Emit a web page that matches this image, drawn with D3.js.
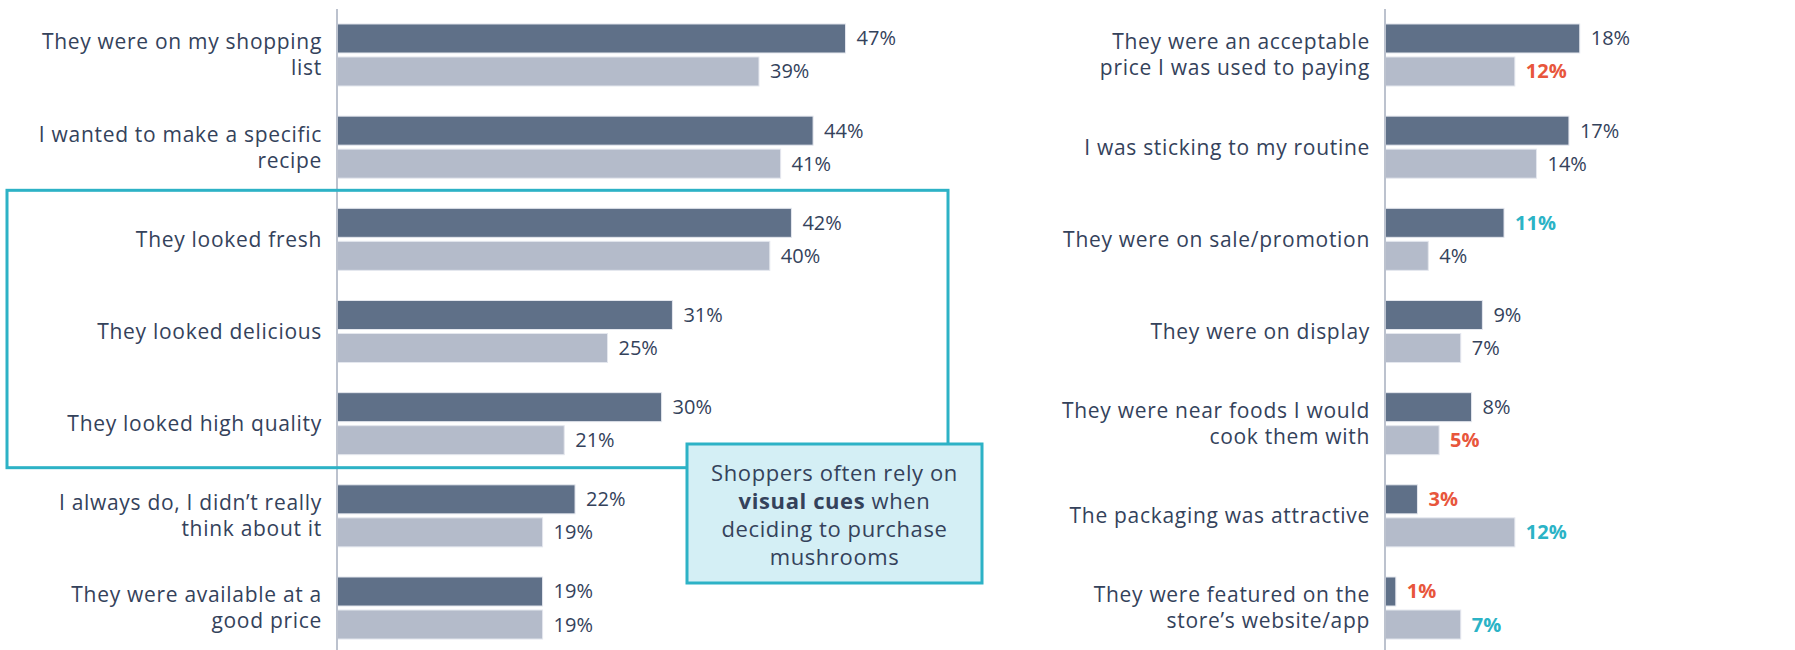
<!DOCTYPE html>
<html>
<head>
<meta charset="utf-8">
<script src="https://cdn.jsdelivr.net/npm/d3@7"></script>
<style>
  body { margin: 0; background: #fff; }
  svg { display: block; font-family: "Open Sans", sans-serif; }
</style>
</head>
<body>
<svg width="1795" height="650"></svg>
<script>
var leftLabels = [
  ["They were on my shopping", "list"],
  ["I wanted to make a specific", "recipe"],
  ["They looked fresh"],
  ["They looked delicious"],
  ["They looked high quality"],
  ["I always do, I didn\u2019t really", "think about it"],
  ["They were available at a", "good price"]
];
var leftDark = [47, 44, 42, 31, 30, 22, 19];
var leftLight = [39, 41, 40, 25, 21, 19, 19];

var rightLabels = [
  ["They were an acceptable", "price I was used to paying"],
  ["I was sticking to my routine"],
  ["They were on sale/promotion"],
  ["They were on display"],
  ["They were near foods I would", "cook them with"],
  ["The packaging was attractive"],
  ["They were featured on the", "store\u2019s website/app"]
];
var rightDark = [18, 17, 11, 9, 8, 3, 1];
var rightLight = [12, 14, 4, 7, 5, 12, 7];
// "up" = notably higher, "down" = notably lower
var rightDarkFlag = ["", "", "up", "", "", "down", "down"];
var rightLightFlag = ["down", "", "", "", "down", "up", "up"];

var calloutLines = [
  [["Shoppers often rely on", false]],
  [["visual cues", true], [" when", false]],
  [["deciding to purchase", false]],
  [["mushrooms", false]]
];

var svg = d3.select("svg");

var darkColor = "#5f7088",
  lightColor = "#b4bbca",
  textColor = "#34425b",
  upColor = "#2bb3c6",
  downColor = "#e8563c",
  teal = "#2db2c6";

var y = d3
  .scaleBand()
  .domain(d3.range(7))
  .range([8.9, 654.1])
  .paddingInner(0.327)
  .paddingOuter(0.1635);

var sub = d3
  .scaleBand()
  .domain(["dark", "light"])
  .range([0, y.bandwidth()])
  .paddingInner(0.121);

function panel(x0, labels, dark, light, darkFlag, lightFlag) {
  var x = d3.scaleLinear().domain([0, 50]).range([x0, x0 + 541]);

  var rows = labels.map(function (l, i) {
    return {
      i: i,
      label: l,
      bars: [
        { key: "dark", v: dark[i], flag: darkFlag ? darkFlag[i] : "" },
        { key: "light", v: light[i], flag: lightFlag ? lightFlag[i] : "" }
      ]
    };
  });

  var g = svg.append("g");

  var row = g
    .selectAll("g.row")
    .data(rows)
    .enter()
    .append("g")
    .attr("class", "row")
    .attr("transform", function (d) {
      return "translate(0," + y(d.i) + ")";
    });

  row
    .selectAll("rect")
    .data(function (d) { return d.bars; })
    .enter()
    .append("rect")
    .attr("x", x(0))
    .attr("y", function (d) { return sub(d.key); })
    .attr("width", function (d) { return x(d.v) - x(0); })
    .attr("height", sub.bandwidth())
    .attr("fill", function (d) { return d.key == "dark" ? darkColor : lightColor; })
    .attr("stroke", "#e4e7ee")
    .attr("stroke-width", 1);

  row
    .selectAll("text.val")
    .data(function (d) { return d.bars; })
    .enter()
    .append("text")
    .attr("class", "val")
    .attr("x", function (d) { return x(d.v) + 11; })
    .attr("y", function (d) { return sub(d.key) + sub.bandwidth() / 2; })
    .attr("dy", "0.35em")
    .attr("font-size", 20)
    .attr("font-weight", function (d) { return d.flag ? "bold" : "normal"; })
    .attr("fill", function (d) {
      if (d.flag == "up") return upColor;
      if (d.flag == "down") return downColor;
      return textColor;
    })
    .text(function (d) { return d.v + "%"; });

  var lab = row
    .append("text")
    .attr("class", "cat")
    .attr("x", x(0) - 15)
    .attr("text-anchor", "end")
    .attr("font-size", 21)
    .attr("letter-spacing", 0.7)
    .attr("fill", textColor);

  lab
    .selectAll("tspan")
    .data(function (d) {
      return d.label.map(function (t, j) {
        return { t: t, j: j, n: d.label.length };
      });
    })
    .enter()
    .append("tspan")
    .attr("x", x(0) - 15)
    .attr("y", function (d) {
      return y.bandwidth() / 2 + (d.j - (d.n - 1) / 2) * 26;
    })
    .attr("dy", "0.35em")
    .text(function (d) { return d.t; });

  g.append("line")
    .attr("x1", x(0))
    .attr("x2", x(0))
    .attr("y1", 9)
    .attr("y2", 650)
    .attr("stroke", "#bcc2ce")
    .attr("stroke-width", 2);

  return x;
}

panel(337, leftLabels, leftDark, leftLight);
panel(1385, rightLabels, rightDark, rightLight, rightDarkFlag, rightLightFlag);

// highlight around the visual-cue reasons
svg
  .append("rect")
  .attr("x", 7)
  .attr("y", y(2) - 18)
  .attr("width", 941)
  .attr("height", y(4) + y.bandwidth() + 13 - (y(2) - 18))
  .attr("fill", "none")
  .attr("stroke", teal)
  .attr("stroke-width", 3);

// callout
var cx = 687, cy = 444, cw = 295, ch = 139;
svg
  .append("rect")
  .attr("x", cx)
  .attr("y", cy)
  .attr("width", cw)
  .attr("height", ch)
  .attr("fill", "#d4eff5")
  .attr("stroke", teal)
  .attr("stroke-width", 3);

var ct = svg
  .append("text")
  .attr("text-anchor", "middle")
  .attr("font-size", 22)
  .attr("letter-spacing", 0.6)
  .attr("fill", textColor);

calloutLines.forEach(function (line, i) {
  line.forEach(function (part, k) {
    var t = ct.append("tspan").text(part[0]);
    if (k == 0) t.attr("x", cx + cw / 2).attr("y", 481 + i * 28);
    if (part[1]) t.attr("font-weight", "bold");
  });
});
</script>
</body>
</html>
